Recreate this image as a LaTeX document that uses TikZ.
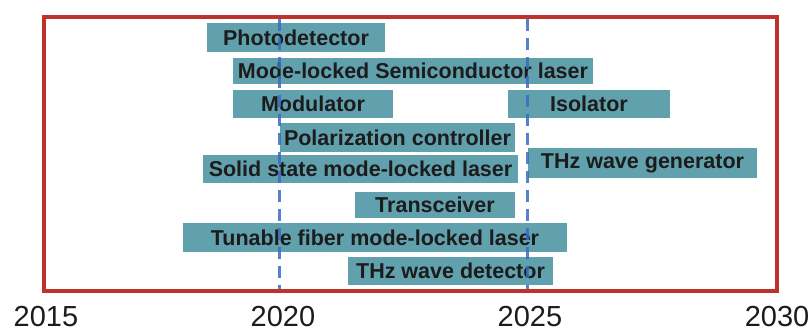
\documentclass[tikz,border=0pt]{standalone}
\usepackage{fontspec}
\setmainfont{Liberation Sans}
\definecolor{boxc}{RGB}{96,161,173}
\definecolor{framec}{RGB}{190,50,44}
\definecolor{dashc}{RGB}{58,108,196}
\definecolor{txtc}{RGB}{28,28,28}
\begin{document}
\begin{tikzpicture}[x=1pt,y=-1pt,
  bar/.style={fill=boxc, draw=none, inner sep=0pt, text=txtc,
    font=\bfseries\fontsize{21.5}{24}\selectfont},
  year/.style={inner sep=0pt, text=txtc, font=\fontsize{29}{31}\selectfont},
  yearline/.style={draw=dashc, line width=3pt, dash pattern=on 12pt off 7pt},
  frameline/.style={draw=framec, line width=4.5pt}]
\useasboundingbox (0,0) rectangle (811,334);
\fill[white] (0,0) rectangle (811,334);
\draw[frameline] (44,17) rectangle (777,291);
\node[bar, minimum width=178pt, minimum height=29pt] (photo) at (296,37.5) {Photodetector};
\node[bar, minimum width=360pt, minimum height=26pt] (mlsl) at (413,71) {Mode-locked Semiconductor laser};
\node[bar, minimum width=160pt, minimum height=28pt] (mod) at (313,104) {Modulator};
\node[bar, minimum width=162pt, minimum height=28pt] (iso) at (589,104) {Isolator};
\node[bar, minimum width=235pt, minimum height=29pt] (pol) at (397.5,137.5) {Polarization controller};
\node[bar, minimum width=229pt, minimum height=30pt] (thzg) at (642.5,163) {THz wave generator};
\node[bar, minimum width=315pt, minimum height=28pt] (solid) at (360.5,169) {Solid state mode-locked laser};
\node[bar, minimum width=160pt, minimum height=26pt] (trans) at (435,205) {Transceiver};
\node[bar, minimum width=384pt, minimum height=29pt] (tun) at (375,237.5) {Tunable fiber mode-locked laser};
\node[bar, minimum width=205pt, minimum height=28pt] (thzd) at (450.5,271) {THz wave detector};
\coordinate (t20) at (279,19);
\coordinate (b20) at (279,289);
\coordinate (t25) at (527,19);
\coordinate (b25) at (527,289);
\draw[yearline, opacity=0.85] (t20) -- (b20);
\draw[yearline, opacity=0.85] (t25) -- (b25);
\node[year] (y2015) at (46,317) {2015};
\node[year] (y2020) at (283,317) {2020};
\node[year] (y2025) at (530,317) {2025};
\node[year] (y2030) at (777,317) {2030};
\end{tikzpicture}
\end{document}
